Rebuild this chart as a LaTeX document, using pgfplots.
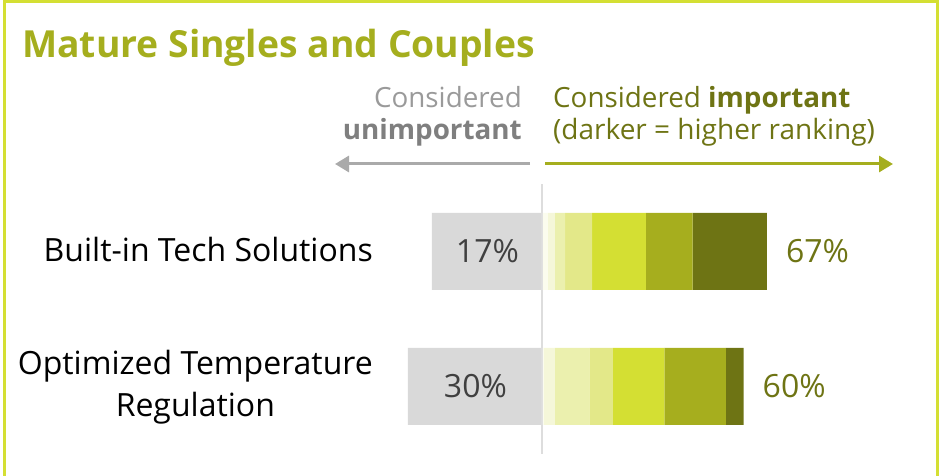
\documentclass[border=0pt]{standalone}
\usepackage{fontspec}
\setmainfont{Open Sans}
\usepackage{pgfplots}
\usepackage{pgfplotstable}
\pgfplotsset{compat=1.18}
\usetikzlibrary{arrows.meta}

\definecolor{frameLime}{HTML}{D4DF33}
\definecolor{titleOlive}{HTML}{A5AE1E}
\definecolor{darkOlive}{HTML}{6E7414}
\definecolor{barGray}{HTML}{D9D9D9}
\definecolor{axisGray}{HTML}{DDDDDD}
\definecolor{arrowGray}{HTML}{AAAAAA}
\definecolor{txtGray}{HTML}{9A9A9A}
\definecolor{txtGrayDark}{HTML}{7F7F7F}
\definecolor{valGray}{HTML}{404040}
\definecolor{rankA}{HTML}{FBFCEE}
\definecolor{rankB}{HTML}{F5F7D9}
\definecolor{rankC}{HTML}{EBF0AE}
\definecolor{rankD}{HTML}{E3E889}
\definecolor{rankE}{HTML}{D4DF33}
\definecolor{rankF}{HTML}{A6AE1E}
\definecolor{rankG}{HTML}{6E7414}

\newcommand\fs[1]{\fontsize{#1}{#1}\selectfont}

% share of respondents by rank (1 = lowest), y=1 top row, y=0 bottom row
\pgfplotstableread{
y  r1  r2  r3   r4  r5   r6   r7
1  1.5 2.1 3.0  8.1 16.1 14.0 22.2
0  0.3 3.3 10.3 7.0 15.4 18.4 5.3
}\important

% grey bars: drawn length in the same units as above (not to scale with 17 / 30)
\pgfplotstableread{
y  len
1  -33.2
0  -40.4
}\unimportant

\pgfplotsset{
  barbase/.style={
    at={(375.8pt,22pt)}, anchor=south west,
    scale only axis, width=501.4pt, height=270pt,
    xmin=-50, xmax=100, ymin=-0.5, ymax=1.5,
    hide axis, clip=false,
    bar width=77pt,
  },
}

\begin{document}
\begin{tikzpicture}
\useasboundingbox (0pt,0pt) rectangle (940pt,476pt);

\begin{scope}[x=1pt, y=1pt, every node/.style={inner sep=0pt}]
% frame
\draw[frameLime, line width=3pt] (4,-10) -- (4,474.5) -- (937.5,474.5) -- (937.5,-10);

% title
\node[anchor=base west, text=titleOlive, font=\fs{37.3}\bfseries] at (22,418) {Mature Singles and Couples};

% header
\node[anchor=base east, text=txtGray, font=\fs{27.8}] at (522,368) {Considered};
\node[anchor=base east, text=txtGrayDark, font=\fs{27.8}\bfseries] at (522,336) {unimportant};
\node[anchor=base west, text=darkOlive, font=\fs{27.8}] at (553,368) {Considered \textbf{important}};
\node[anchor=base west, text=darkOlive, font=\fs{28}] at (553,336) {(darker = higher ranking)};
\draw[arrowGray, line width=3pt, -{Triangle[length=14pt,width=16pt]}] (530,312) -- (335,312);
\draw[titleOlive, line width=3pt, -{Triangle[length=14pt,width=16pt]}] (545,312) -- (893,312);

% row labels
\node[anchor=base east, font=\fs{32}] at (373,214) {Built-in Tech Solutions};
\node[anchor=base east, font=\fs{32}] (l2) at (373,101) {Optimized Temperature};
\node[anchor=base, font=\fs{32}] at ([yshift=-42pt]l2.base) {Regulation};
\end{scope}

% unimportant side
\begin{axis}[barbase, xbar]
\addplot[fill=barGray, draw=none] table[x=len, y=y] {\unimportant};
\draw[axisGray, line width=2.2pt] (axis cs:-0.35,-0.5) -- (axis cs:-0.35,1.5);
\node[inner sep=0pt, text=valGray, font=\fs{32}] at (axis cs:-16.6,1) {17\%};
\node[inner sep=0pt, text=valGray, font=\fs{32}] at (axis cs:-20.2,0) {30\%};
\end{axis}

% important side, stacked by rank
\begin{axis}[barbase, xbar stacked]
\addplot[fill=rankA, draw=none] table[x=r1, y=y] {\important};
\addplot[fill=rankB, draw=none] table[x=r2, y=y] {\important};
\addplot[fill=rankC, draw=none] table[x=r3, y=y] {\important};
\addplot[fill=rankD, draw=none] table[x=r4, y=y] {\important};
\addplot[fill=rankE, draw=none] table[x=r5, y=y] {\important};
\addplot[fill=rankF, draw=none] table[x=r6, y=y] {\important};
\addplot[fill=rankG, draw=none] table[x=r7, y=y] {\important};
\node[inner sep=0pt, anchor=west, xshift=19pt, text=darkOlive, font=\fs{32}] at (axis cs:67,1) {67\%};
\node[inner sep=0pt, anchor=west, xshift=19pt, text=darkOlive, font=\fs{32}] at (axis cs:60,0) {60\%};
\end{axis}
\end{tikzpicture}
\end{document}
